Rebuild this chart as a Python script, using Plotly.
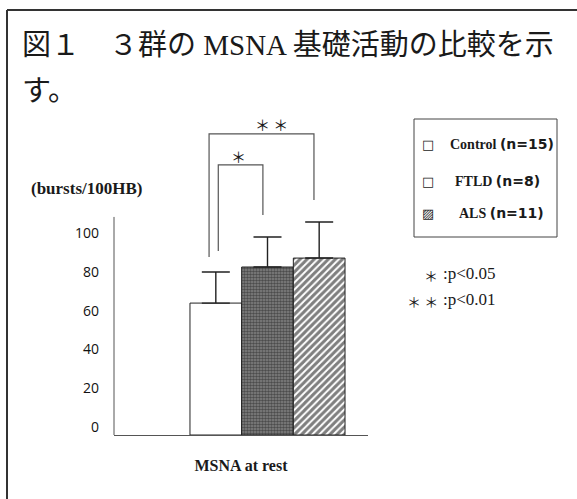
import plotly.graph_objects as go

# ---- data -------------------------------------------------------------
groups = ["Control", "FTLD", "ALS"]
group_n = [15, 8, 11]
msna_mean = [68.0, 86.6, 91.2]      # bursts/100HB
msna_sd = [16.0, 15.5, 18.6]
y_ticks = [0, 20, 40, 60, 80, 100]
y_axis_top = 112.4                  # extent of the drawn value axis
category_label = "MSNA at rest"
unit_label = "(bursts/100HB)"
title_lines = ["図１　３群の MSNA 基礎活動の比較を示", "す。"]
sig_marks = ["＊", "＊ ＊"]
p_legend = [("＊", ":p<0.05"), ("＊ ＊", ":p<0.01")]

# ---- canvas geometry (pixels) ----------------------------------------
W, H = 577, 499
L, R, T, B = 114, 209, 120, 64
PW, PH = W - L - R, H - T - B
BARGAP = 0.495
PX_PER_UNIT = 1.94     # vertical pixels per burst/100HB
PX_PER_X = 307         # horizontal pixels per x unit


def px(x):
    return (x - L) / PW


def py(y):
    return (H - B - y) / PH


SERIF = "Liberation Serif, Noto Sans CJK JP, serif"
TITLE_FONT = "Liberation Serif, Noto Sans CJK JP"
STAR_FONT = "Noto Sans CJK JP"
INK = "#1a1a1a"

bar_styles = [
    dict(color="white", pattern=dict(shape="")),
    dict(color="#666666", pattern=dict(shape=".", fgcolor="#141414",
                                       bgcolor="#858585", size=3, solidity=0.6)),
    dict(color="white", pattern=dict(shape="/", fgcolor="#000000",
                                     bgcolor="white", size=5, solidity=0.6)),
]

fig = go.Figure()
for name, m, s, st in zip(groups, msna_mean, msna_sd, bar_styles):
    fig.add_trace(go.Bar(
        x=[0], y=[m], name=name,
        marker=dict(color=st["color"], pattern=st["pattern"],
                    line=dict(color="#222", width=1)),
        error_y=dict(type="data", symmetric=False, array=[s], arrayminus=[0],
                     width=14, thickness=1.4, color="#222"),
        showlegend=False,
    ))

# bar centres inside the single group
w = (1 - BARGAP) / len(groups)
centres = [(i - (len(groups) - 1) / 2) * w for i in range(len(groups))]

shapes = []
# value axis line, drawn from 0 up to the axis extent
shapes.append(dict(type="line", xref="paper", yref="paper", x0=0, x1=0,
                   y0=0, y1=y_axis_top * PX_PER_UNIT / PH,
                   line=dict(color="#555", width=1)))


# significance brackets
def bracket(xl, xr, yl, yr, ytop):
    return dict(type="path", xref="x", yref="y",
                path=f"M {xl},{yl} L {xl},{ytop} L {xr},{ytop} L {xr},{yr}",
                line=dict(color="#555", width=1.2))


shapes.append(bracket(centres[0] + 0.008, centres[1] - 0.015, 94.8, 113.4, 139.2))
shapes.append(bracket(centres[0] - 0.022, centres[2] - 0.017, 91.8, 121.1, 155.2))

# legend frame
shapes.append(dict(type="rect", xref="paper", yref="paper",
                   x0=px(414), x1=px(557), y0=py(237), y1=py(119),
                   line=dict(color="#444", width=1)))

# page frame (left and top rules)
shapes.append(dict(type="line", xref="paper", yref="paper",
                   x0=px(7), x1=px(7), y0=py(10), y1=py(H + 2),
                   line=dict(color="#333", width=2)))
shapes.append(dict(type="line", xref="paper", yref="paper",
                   x0=px(7), x1=px(W + 2), y0=py(10), y1=py(10),
                   line=dict(color="#333", width=2)))

annotations = []


def note(text, x, y, size, family=SERIF, xanchor="left", xref="paper", yref="paper"):
    annotations.append(dict(text=text, x=x, y=y, xref=xref, yref=yref,
                            xanchor=xanchor, yanchor="middle", showarrow=False,
                            font=dict(family=family, size=size, color=INK)))


# title
note(title_lines[0], px(20), py(45), 29, TITLE_FONT)
note(title_lines[1], px(20), py(91), 29, TITLE_FONT)

# unit label
note(f"<b>{unit_label}</b>", px(29), py(188), 17)

# significance stars
note(sig_marks[0], -0.093, 143.8, 15, STAR_FONT, "center", "x", "y")
note(sig_marks[1], 0.0114, 159.8, 15, STAR_FONT, "center", "x", "y")

# legend entries
legend_y = [144, 181, 213]
legend_x = [448, 453, 457]
glyphs = ["□", "□", "▨"]
for g, n, gy, gx, gl in zip(groups, group_n, legend_y, legend_x, glyphs):
    note(gl, px(428), py(gy), 13, "DejaVu Sans", "center")
    note(f"<b>{g}</b> <span style='font-family:DejaVu Sans'><b>(n={n})</b></span>",
         px(gx), py(gy), 14)

# p-value key
for (stars, txt), ky in zip(p_legend, [273, 299]):
    note(stars, px(440), py(ky + 2), 14, STAR_FONT, "right")
    note(txt, px(441), py(ky), 17)

fig.update_layout(
    width=W, height=H,
    margin=dict(l=L, r=R, t=T, b=B, autoexpand=False),
    paper_bgcolor="white", plot_bgcolor="white",
    barmode="group", bargap=BARGAP, bargroupgap=0,
    shapes=shapes, annotations=annotations,
    xaxis=dict(range=[-0.5, -0.5 + PW / PX_PER_X], showline=True,
               linecolor="#555", linewidth=1, showticklabels=False,
               ticks="", showgrid=False, zeroline=False,
               title=dict(text=f"<b>{category_label}</b>", standoff=24,
                          font=dict(family=SERIF, size=16, color=INK))),
    yaxis=dict(range=[0, PH / PX_PER_UNIT], showline=False, tickvals=y_ticks,
               ticks="", showgrid=False, zeroline=False,
               tickfont=dict(family="Open Sans", size=14, color="#111"),
               ticklabelstandoff=14, ticklabelshift=-8),
)

fig.write_html("out.html")
